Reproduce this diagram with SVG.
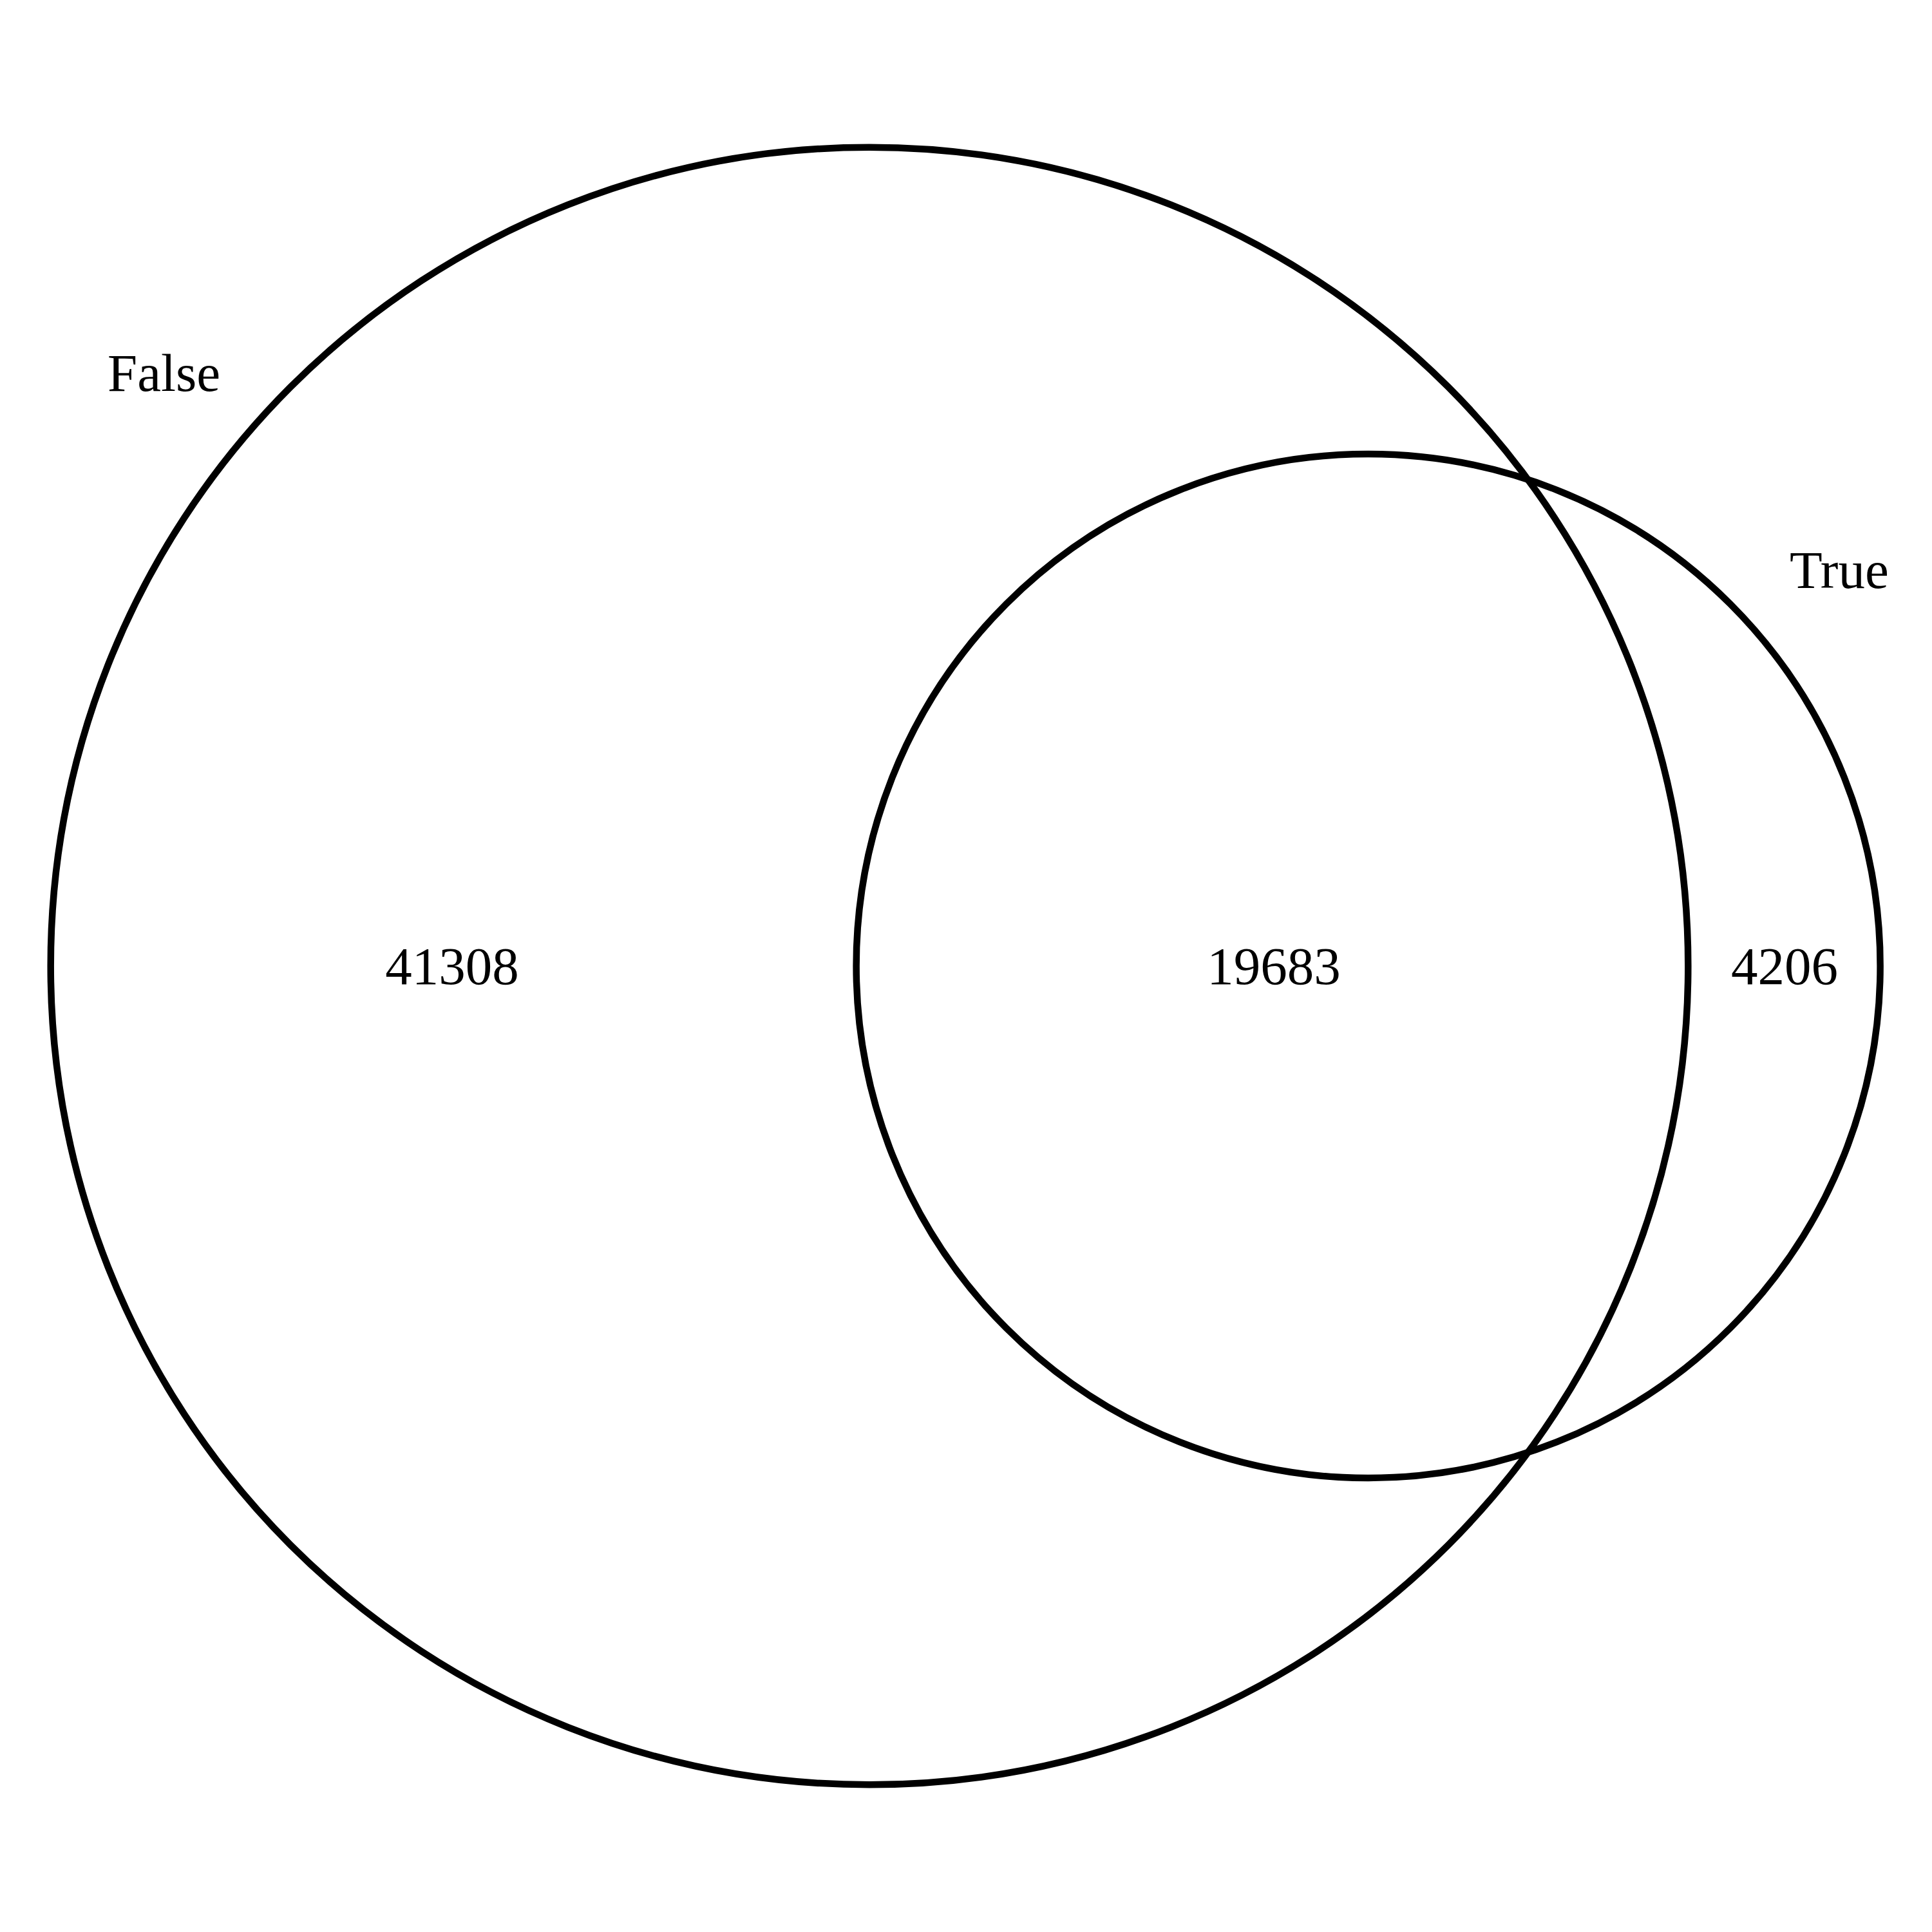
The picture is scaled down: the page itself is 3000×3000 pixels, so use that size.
<svg xmlns="http://www.w3.org/2000/svg" width="3000" height="3000" viewBox="0 0 3000 3000">
<style>
.c{fill:none;stroke:#000;stroke-width:10.5}
.t{font-family:"Liberation Serif","Times New Roman",serif;font-size:83px;fill:#000}
.m{text-anchor:middle}
</style>
<rect width="3000" height="3000" fill="#fff"/>
<g id="set-false">
<circle class="c" cx="1350" cy="1500" r="1271.3"/>
<text class="t" x="167" y="607">False</text>
</g>
<g id="set-true">
<circle class="c" cx="2124.6" cy="1500" r="795"/>
<text class="t" x="2779" y="913">True</text>
</g>
<g id="counts">
<text class="t m" x="702" y="1528">41308</text>
<text class="t m" x="1978" y="1528">19683</text>
<text class="t m" x="2771" y="1528">4206</text>
</g>
<g id="connectors"></g>
</svg>
